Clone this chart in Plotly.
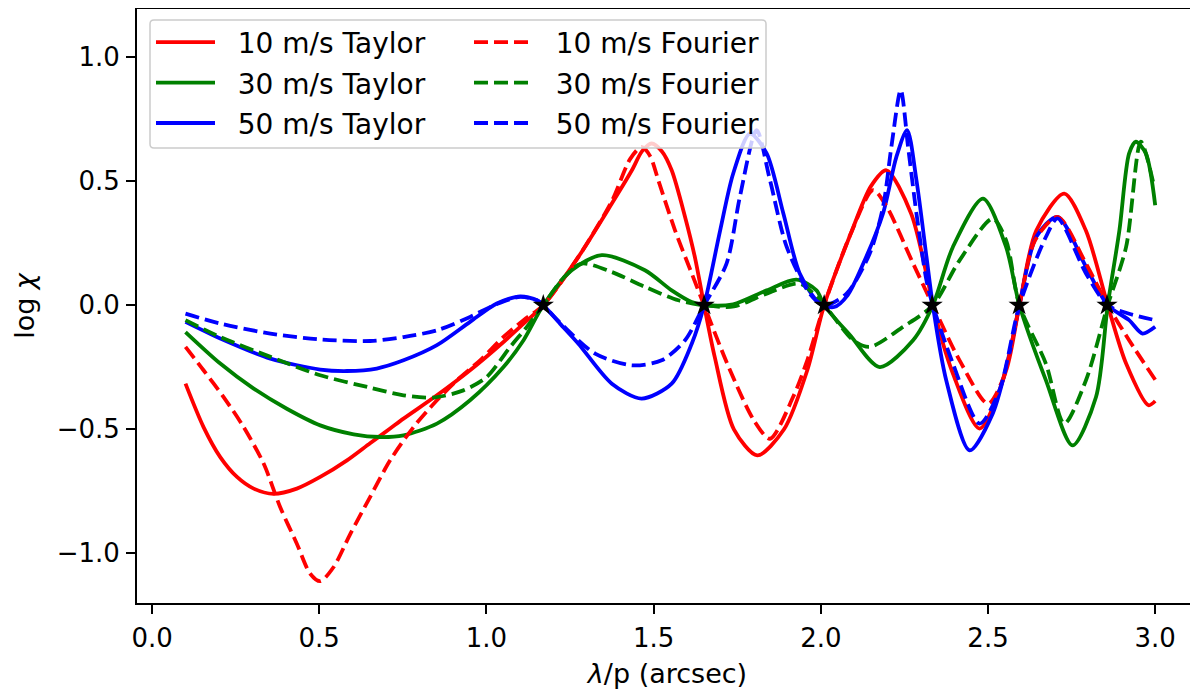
import plotly.graph_objects as go

# ---------------- data ----------------
x_t10 = [0.10, 0.154, 0.204, 0.254, 0.304, 0.363, 0.433, 0.503, 0.583, 0.652, 0.712, 0.752, 0.852, 0.951, 1.051, 1.111, 1.17,
         1.275, 1.375, 1.435, 1.465, 1.494, 1.525, 1.554, 1.594, 1.624, 1.651, 1.683, 1.74, 1.81, 1.89, 1.96, 2.01, 2.09, 2.15,
         2.196, 2.27, 2.32, 2.335, 2.395, 2.475, 2.555, 2.594, 2.644, 2.728, 2.793, 2.858, 2.913, 2.98, 3.0]
y_t10 = [-0.316, -0.491, -0.612, -0.692, -0.739, -0.760, -0.739, -0.692, -0.625, -0.556, -0.497, -0.457, -0.363, -0.262, -0.148,
         -0.074, 0.0, 0.195, 0.41, 0.544, 0.62, 0.652, 0.62, 0.544, 0.356, 0.19, 0.0, -0.21, -0.50, -0.605, -0.50, -0.26, 0.0,
         0.29, 0.48, 0.544, 0.37, 0.10, 0.0, -0.275, -0.497, -0.26, 0.0, 0.30, 0.45, 0.30, 0.0, -0.235, -0.403, -0.386]

x_f10 = [0.10, 0.154, 0.214, 0.274, 0.334, 0.383, 0.433, 0.473, 0.503, 0.543, 0.593, 0.652, 0.712, 0.782, 0.852, 0.912, 0.981,
         1.051, 1.111, 1.17, 1.275, 1.375, 1.43, 1.464, 1.49, 1.514, 1.564, 1.614, 1.651, 1.72, 1.80, 1.848, 1.917, 1.96, 2.01,
         2.09, 2.156, 2.196, 2.276, 2.335, 2.415, 2.50, 2.544, 2.594, 2.64, 2.708, 2.793, 2.858, 2.922, 3.0]
y_f10 = [-0.168, -0.262, -0.370, -0.491, -0.639, -0.813, -0.961, -1.082, -1.112, -1.055, -0.921, -0.773, -0.625, -0.491, -0.383,
         -0.302, -0.222, -0.128, -0.060, 0.0, 0.195, 0.42, 0.59, 0.638, 0.60, 0.504, 0.302, 0.128, 0.0, -0.235, -0.464, -0.538,
         -0.37, -0.22, 0.0, 0.29, 0.464, 0.40, 0.168, 0.0, -0.222, -0.397, -0.30, 0.0, 0.26, 0.356, 0.168, 0.0, -0.141, -0.30]

x_t30 = [0.10, 0.204, 0.304, 0.403, 0.503, 0.603, 0.682, 0.752, 0.852, 0.951, 1.051, 1.111, 1.17, 1.255, 1.345, 1.474, 1.554,
         1.614, 1.659, 1.738, 1.838, 1.927, 1.987, 2.01, 2.087, 2.176, 2.276, 2.335, 2.395, 2.485, 2.554, 2.594, 2.673, 2.753,
         2.823, 2.858, 2.893, 2.922, 2.942, 2.972, 3.0]
y_t30 = [-0.108, -0.235, -0.336, -0.417, -0.484, -0.520, -0.531, -0.524, -0.477, -0.383, -0.249, -0.141, 0.0, 0.141, 0.202,
         0.141, 0.06, 0.013, 0.0, 0.004, 0.06, 0.103, 0.06, 0.0, -0.12, -0.249, -0.141, 0.0, 0.235, 0.43, 0.235, 0.0, -0.302,
         -0.565, -0.37, 0.0, 0.302, 0.612, 0.659, 0.612, 0.403]

x_f30 = [0.10, 0.204, 0.354, 0.503, 0.652, 0.752, 0.842, 0.931, 1.001, 1.071, 1.121, 1.17, 1.23, 1.285, 1.375, 1.474, 1.574,
         1.65, 1.74, 1.838, 1.937, 2.01, 2.097, 2.146, 2.246, 2.335, 2.415, 2.514, 2.554, 2.594, 2.673, 2.728, 2.793, 2.858,
         2.913, 2.957, 2.997]
y_f30 = [-0.060, -0.128, -0.208, -0.282, -0.332, -0.363, -0.372, -0.343, -0.289, -0.168, -0.087, 0.0, 0.11, 0.168, 0.134,
         0.074, 0.020, 0.0, -0.005, 0.047, 0.087, 0.0, -0.141, -0.168, -0.087, 0.0, 0.181, 0.349, 0.262, 0.0, -0.235, -0.477,
         -0.302, 0.0, 0.235, 0.659, 0.477]

x_t50 = [0.10, 0.204, 0.354, 0.503, 0.583, 0.672, 0.752, 0.852, 0.951, 1.031, 1.101, 1.151, 1.17, 1.22, 1.275, 1.375, 1.464,
         1.554, 1.614, 1.651, 1.699, 1.738, 1.788, 1.838, 1.888, 1.937, 1.997, 2.04, 2.08, 2.127, 2.186, 2.226, 2.258, 2.286,
         2.316, 2.335, 2.375, 2.445, 2.514, 2.564, 2.594, 2.644, 2.708, 2.793, 2.858, 2.922, 2.962, 3.0]
y_t50 = [-0.067, -0.134, -0.215, -0.259, -0.265, -0.255, -0.222, -0.161, -0.067, 0.007, 0.036, 0.020, 0.0, -0.074, -0.155,
         -0.316, -0.376, -0.316, -0.155, 0.0, 0.302, 0.531, 0.692, 0.612, 0.37, 0.128, 0.007, -0.007, 0.04, 0.168, 0.37, 0.598,
         0.706, 0.504, 0.195, 0.0, -0.302, -0.585, -0.437, -0.195, 0.0, 0.275, 0.356, 0.155, 0.0, -0.06, -0.114, -0.087]

x_f50 = [0.10, 0.204, 0.354, 0.503, 0.652, 0.752, 0.852, 0.951, 0.981, 1.031, 1.101, 1.151, 1.17, 1.22, 1.325, 1.435, 1.524,
         1.594, 1.651, 1.718, 1.758, 1.808, 1.848, 1.898, 1.967, 2.01, 2.077, 2.146, 2.186, 2.211, 2.239, 2.261, 2.286, 2.316,
         2.335, 2.395, 2.475, 2.534, 2.594, 2.673, 2.708, 2.793, 2.858, 2.922, 3.0]
y_f50 = [-0.034, -0.074, -0.114, -0.138, -0.144, -0.128, -0.101, -0.047, -0.027, 0.005, 0.034, 0.02, 0.0, -0.07, -0.195,
         -0.242, -0.222, -0.141, 0.0, 0.168, 0.437, 0.706, 0.504, 0.235, 0.047, 0.0, 0.047, 0.208, 0.396, 0.638, 0.867, 0.638,
         0.37, 0.1, 0.0, -0.235, -0.477, -0.343, 0.0, 0.275, 0.35, 0.128, 0.0, -0.034, -0.06]

x_star = [1.170, 1.651, 2.010, 2.333, 2.593, 2.856]
y_star = [0.0, 0.0, 0.0, 0.0, 0.0, 0.0]

names_taylor = ["10 m/s Taylor", "30 m/s Taylor", "50 m/s Taylor"]
names_fourier = ["10 m/s Fourier", "30 m/s Fourier", "50 m/s Fourier"]
colors = ["#ff0000", "#008000", "#0000ff"]

x_ticks = [0.0, 0.5, 1.0, 1.5, 2.0, 2.5, 3.0]
y_ticks = [-1.0, -0.5, 0.0, 0.5, 1.0]

# ---------------- figure ----------------
FONT = "DejaVu Sans"
LW = 3.8
fig = go.Figure()

taylor = [(x_t10, y_t10), (x_t30, y_t30), (x_t50, y_t50)]
fourier = [(x_f10, y_f10), (x_f30, y_f30), (x_f50, y_f50)]
GAP = "\u00a0\u00a0"

for i, (xs, ys) in enumerate(taylor):
    fig.add_trace(go.Scatter(x=xs, y=ys, mode="lines", name=GAP + names_taylor[i],
                             line=dict(color=colors[i], width=LW, shape="spline", smoothing=0.8),
                             legend="legend", legendgroup="t%d" % i))
for i, (xs, ys) in enumerate(fourier):
    fig.add_trace(go.Scatter(x=xs, y=ys, mode="lines", name=GAP + names_fourier[i],
                             line=dict(color=colors[i], width=LW, dash="14px,6px", shape="spline", smoothing=0.8),
                             legend="legend2", legendgroup="f%d" % i))

fig.add_trace(go.Scatter(x=x_star, y=y_star, mode="markers", showlegend=False,
                         marker=dict(symbol="star", size=16, color="black", line=dict(width=0))))

# geometry: page is offset by the 8px body margin
W, H = 1190, 682
ML, MR, MT, MB = 129, 0, 1, 87
PW, PH = W - ML - MR, H - MT - MB
def px_x(page): return (page - 8 - ML) / PW
def px_y(page): return 1 - (page - 8 - MT) / PH

# legend frame (one box around both columns)
bx0, bx1, by0, by1 = px_x(150), px_x(766), px_y(148), px_y(20)
rx, ry = 4 / PW, 4 / PH
path = (f"M{bx0+rx},{by1} L{bx1-rx},{by1} Q{bx1},{by1} {bx1},{by1-ry} L{bx1},{by0+ry} Q{bx1},{by0} {bx1-rx},{by0} "
        f"L{bx0+rx},{by0} Q{bx0},{by0} {bx0},{by0+ry} L{bx0},{by1-ry} Q{bx0},{by1} {bx0+rx},{by1} Z")
fig.add_shape(type="path", path=path, xref="paper", yref="paper", layer="above",
              fillcolor="rgba(255,255,255,0.8)", line=dict(color="#cccccc", width=1.5))

leg_common = dict(bgcolor="rgba(0,0,0,0)", borderwidth=0, font=dict(family=FONT, size=28, color="black"),
                  yanchor="top", xanchor="left", tracegroupgap=1, itemwidth=59)
fig.update_layout(
    width=W, height=H,
    margin=dict(l=ML, r=MR, t=MT, b=MB, pad=0),
    paper_bgcolor="white", plot_bgcolor="white",
    font=dict(family=FONT, size=26, color="black"),
    legend=dict(x=px_x(151), y=px_y(17.5), **leg_common),
    legend2=dict(x=px_x(469), y=px_y(17.5), **leg_common),
)

fig.update_xaxes(range=[-0.045, 3.128], tickvals=x_ticks, ticktext=[f"{v:.1f}" for v in x_ticks],
                 showgrid=False, zeroline=False, showline=True, linecolor="black", linewidth=2, mirror=True,
                 ticks="outside", ticklen=9, tickwidth=2, tickcolor="black",
                 tickfont=dict(family=FONT, size=26), ticklabelstandoff=2,
                 title=dict(text="<i>λ</i>/p (arcsec)", font=dict(family=FONT, size=27), standoff=12))
fig.update_yaxes(range=[-1.2, 1.194], tickvals=y_ticks, ticktext=[f"{v:.1f}".replace("-", "\u2212") for v in y_ticks],
                 showgrid=False, zeroline=False, showline=True, linecolor="black", linewidth=2, mirror=False,
                 ticks="outside", ticklen=9, tickwidth=2, tickcolor="black",
                 tickfont=dict(family=FONT, size=26), ticklabelstandoff=1,
                 title=dict(text="log <i>χ</i>", font=dict(family=FONT, size=27), standoff=14))

fig.write_html("out.html")
